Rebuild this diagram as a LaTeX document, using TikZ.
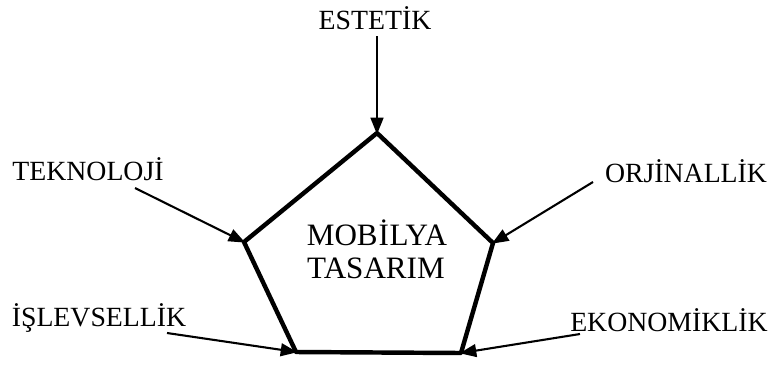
\documentclass[tikz,border=0pt]{standalone}
\usepackage{fontspec}
\setmainfont{Liberation Serif}
\usepackage{tikz}
\usetikzlibrary{arrows.meta, positioning}

\begin{document}
\begin{tikzpicture}[
  x=0.36pt, y=-0.36pt,
  lbl/.style={font=\normalsize, inner sep=0pt},
  mid/.style={font=\fontsize{11.2}{13}\selectfont, inner sep=0pt},
  side/.style={line width=1.6pt, line join=round, line cap=round},
  arrow/.style={-{Triangle[length=6pt,width=4.6pt]}, line width=0.75pt, shorten >=-0.5pt}
]
\useasboundingbox (0,0) rectangle (773,365);

% Pentagon corners
\coordinate (top)   at (377,133);
\coordinate (left)  at (244,242);
\coordinate (right) at (493,243);
\coordinate (botL)  at (296,352);
\coordinate (botR)  at (461,353);

\draw[side] (top) -- (right) -- (botR) -- (botL) -- (left) -- cycle;

\node[mid] (mobilya) at (377,233) {MOB\kern0.3ptİ\kern0.3ptLYA};
\node[mid] (tasarim) at (376,268) {TASARIM};

% Outer labels
\node[lbl] (estetik)   at (375,18)  {ESTETİK};
\node[lbl] (teknoloji) at (88,169)  {TEKNOLOJİ};
\node[lbl] (orjinal)   at (686,171) {ORJİNALLİK};
\node[lbl] (islev)     at (99,318)  {İŞLEVSELLİK};
\node[lbl] (ekonomi)   at (669,320) {EKONOMİKLİK};

% Arrow tails
\coordinate (estetikT)   at (377,36);
\coordinate (teknolojiT) at (135,188);
\coordinate (orjinalT)   at (593,182);
\coordinate (islevT)     at (167,333);
\coordinate (ekonomiT)   at (580,334);

\draw[arrow] (estetikT)   -- (top);
\draw[arrow] (teknolojiT) -- (left);
\draw[arrow] (orjinalT)   -- (right);
\draw[arrow] (islevT)     -- (botL);
\draw[arrow] (ekonomiT)   -- (botR);

\end{tikzpicture}
\end{document}
